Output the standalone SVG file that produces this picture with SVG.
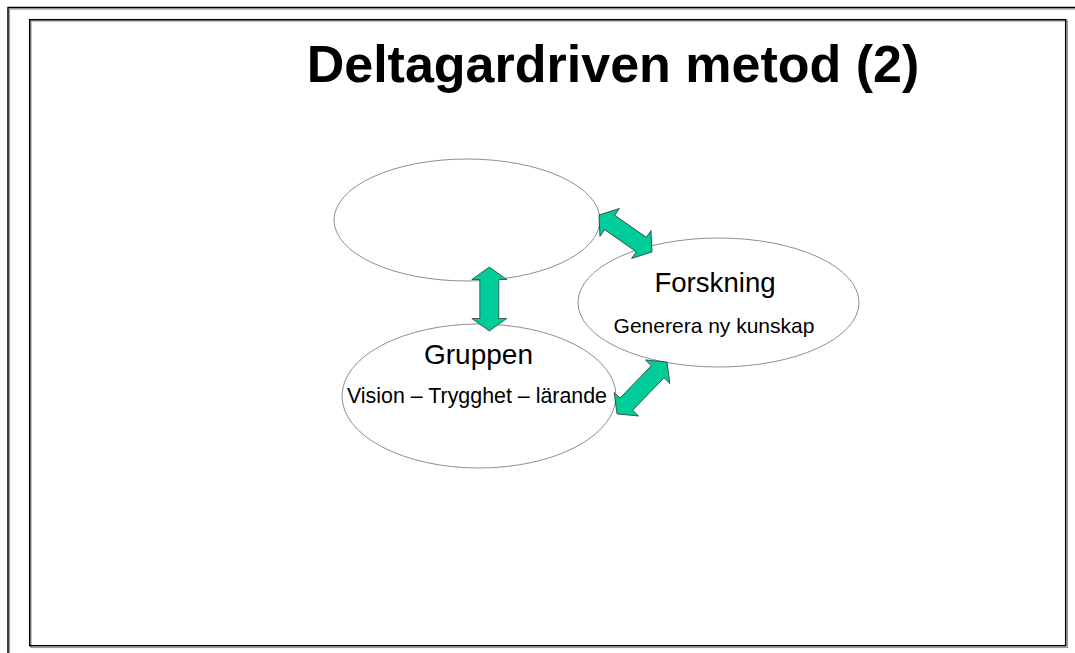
<svg xmlns="http://www.w3.org/2000/svg" width="1075" height="653" viewBox="0 0 1075 653">
<style>
.frame{fill:none;stroke:#000;stroke-width:1.5}
.shadow{fill:none;stroke:#9a9a9a;stroke-width:1.2}
.node{fill:#fff;stroke:#808080;stroke-width:0.9}
.arrow{fill:#00CC99;stroke:#2a2a2a;stroke-width:0.7;stroke-linejoin:miter}
.t{font-family:"Liberation Sans",Arial,sans-serif;fill:#000;text-anchor:middle}
</style>
<rect width="1075" height="653" fill="#fff"/>
<g id="frame">
<rect class="shadow" x="9.5" y="9" width="1080" height="660"/>
<rect class="frame" x="8" y="7.5" width="1080" height="660"/>
<rect class="shadow" x="31" y="21" width="1036.5" height="626.5"/>
<rect class="frame" x="29.7" y="19.7" width="1036" height="626"/>
</g>
<g id="title"><text class="t" x="613" y="82" font-size="52" font-weight="bold">Deltagardriven metod (2)</text></g>
<g id="node-top"><ellipse class="node" cx="467" cy="220" rx="133" ry="61"/></g>
<g id="node-forskning">
<ellipse class="node" cx="718.5" cy="302.5" rx="140.5" ry="64.5"/>
<text class="t" x="715" y="292" font-size="27.6">Forskning</text>
<text class="t" x="714" y="332.5" font-size="21">Generera ny kunskap</text>
</g>
<g id="node-gruppen">
<ellipse class="node" cx="479" cy="396" rx="137" ry="72"/>
<text class="t" x="478.5" y="364" font-size="28">Gruppen</text>
<text class="t" x="477" y="403" font-size="21.4">Vision – Trygghet – lärande</text>
</g>
<g id="connectors">
<polygon class="arrow" transform="translate(489.3,267) rotate(90)" points="0,0 12.5,-17.5 12.5,-9.5 51.5,-9.5 51.5,-17.5 64,0 51.5,17.5 51.5,9.5 12.5,9.5 12.5,17.5"/>
<polygon class="arrow" transform="translate(599,215) rotate(34.9)" points="0,0 13,-17 13,-8.8 51.6,-8.8 51.6,-17 64.6,0 51.6,17 51.6,8.8 13,8.8 13,17"/>
<polygon class="arrow" transform="translate(667,362) rotate(133.9)" points="0,0 13.5,-17 13.5,-8.8 58.6,-8.8 58.6,-17 72.1,0 58.6,17 58.6,8.8 13.5,8.8 13.5,17"/>
</g>
</svg>
